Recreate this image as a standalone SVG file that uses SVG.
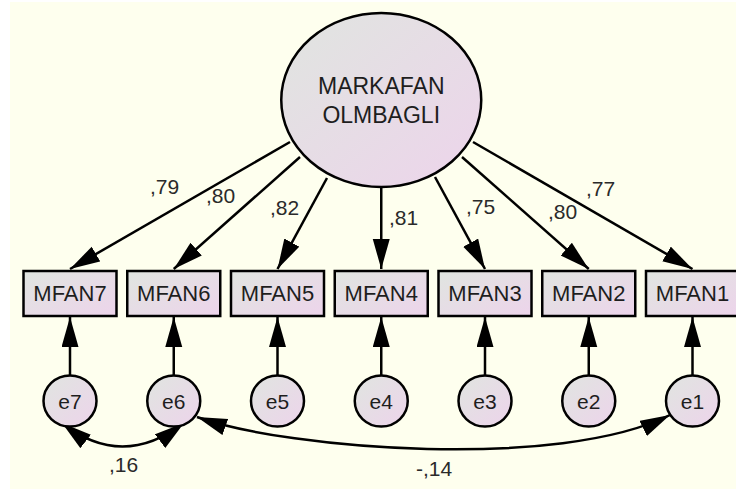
<svg xmlns="http://www.w3.org/2000/svg" width="736" height="489" viewBox="0 0 736 489">
  <defs>
    <linearGradient id="fillGrad" x1="0" y1="0" x2="1" y2="1">
      <stop offset="0" stop-color="#E0E5E0"/>
      <stop offset="1" stop-color="#EDD4EB"/>
    </linearGradient>
    <marker id="head" markerUnits="userSpaceOnUse" markerWidth="32" markerHeight="18" refX="30" refY="8.5" orient="auto-start-reverse" viewBox="0 0 32 18">
      <path d="M0,0 L30,8.5 L0,17 z" fill="#000"/>
    </marker>
    <style>
      .node { fill: url(#fillGrad); stroke: #000; stroke-width: 2.5; }
      .lbl { font-family: "Liberation Sans", Arial, sans-serif; fill: #1e1e1e; text-anchor: middle; }
      .big { font-size: 23px; }
      .obs { font-size: 22px; }
      .err { font-size: 21px; }
      .coef { font-family: "Liberation Sans", Arial, sans-serif; font-size: 21px; fill: #2a2a2a; }
      .path { fill: none; stroke: #000; stroke-width: 2.5; marker-end: url(#head); }
      .cov { fill: none; stroke: #000; stroke-width: 2.5; marker-start: url(#head); marker-end: url(#head); }
    </style>
  </defs>

  <!-- canvas -->
  <rect x="0" y="0" width="736" height="489" fill="#FFFFFF"/>
  <rect x="10" y="2" width="726" height="487" fill="#FEFFEE"/>

  <!-- connectors -->
  <g id="connectors">
    <!-- factor loadings -->
    <line class="path" x1="290" y1="142" x2="70" y2="269"/>
    <line class="path" x1="300" y1="157" x2="173.75" y2="269"/>
    <line class="path" x1="327" y1="178" x2="277.5" y2="269"/>
    <line class="path" x1="381.25" y1="188" x2="381.25" y2="269"/>
    <line class="path" x1="435" y1="177" x2="485" y2="269"/>
    <line class="path" x1="462" y1="157" x2="588.75" y2="269"/>
    <line class="path" x1="473" y1="142" x2="692.5" y2="269"/>
    <!-- error terms -->
    <line class="path" x1="70" y1="375" x2="70" y2="317"/>
    <line class="path" x1="173.75" y1="375" x2="173.75" y2="317"/>
    <line class="path" x1="277.5" y1="375" x2="277.5" y2="317"/>
    <line class="path" x1="381.25" y1="375" x2="381.25" y2="317"/>
    <line class="path" x1="485" y1="375" x2="485" y2="317"/>
    <line class="path" x1="588.75" y1="375" x2="588.75" y2="317"/>
    <line class="path" x1="692.5" y1="375" x2="692.5" y2="317"/>
    <!-- covariances -->
    <path class="cov" d="M62,423 Q122,470 184,423"/>
    <path class="cov" d="M197,417 C290,450 560,470 670,415"/>
  </g>

  <!-- coefficients -->
  <g id="coefficients">
    <text class="coef" x="150" y="194">,79</text>
    <text class="coef" x="206" y="203">,80</text>
    <text class="coef" x="270" y="215">,82</text>
    <text class="coef" x="389" y="225">,81</text>
    <text class="coef" x="466" y="214">,75</text>
    <text class="coef" x="548" y="219">,80</text>
    <text class="coef" x="586" y="196">,77</text>
    <text class="coef" x="109" y="472">,16</text>
    <text class="coef" x="416" y="476">-,14</text>
  </g>

  <!-- latent factor -->
  <g id="MARKAFAN_OLMBAGLI">
    <ellipse class="node" cx="381.25" cy="100" rx="100" ry="87"/>
    <text class="lbl big" x="381.25" y="94">MARKAFAN</text>
    <text class="lbl big" x="381.25" y="123">OLMBAGLI</text>
  </g>

  <!-- observed indicators -->
  <g id="MFAN7"><rect class="node" x="23.5" y="271" width="93" height="45"/><text class="lbl obs" x="70" y="301">MFAN7</text></g>
  <g id="MFAN6"><rect class="node" x="127.25" y="271" width="93" height="45"/><text class="lbl obs" x="173.75" y="301">MFAN6</text></g>
  <g id="MFAN5"><rect class="node" x="231" y="271" width="93" height="45"/><text class="lbl obs" x="277.5" y="301">MFAN5</text></g>
  <g id="MFAN4"><rect class="node" x="334.75" y="271" width="93" height="45"/><text class="lbl obs" x="381.25" y="301">MFAN4</text></g>
  <g id="MFAN3"><rect class="node" x="438.5" y="271" width="93" height="45"/><text class="lbl obs" x="485" y="301">MFAN3</text></g>
  <g id="MFAN2"><rect class="node" x="542.25" y="271" width="93" height="45"/><text class="lbl obs" x="588.75" y="301">MFAN2</text></g>
  <g id="MFAN1"><rect class="node" x="646" y="271" width="93" height="45"/><text class="lbl obs" x="692.5" y="301">MFAN1</text></g>

  <!-- error terms -->
  <g id="e7"><ellipse class="node" cx="70" cy="401" rx="26.5" ry="25.5"/><text class="lbl err" x="70" y="408.5">e7</text></g>
  <g id="e6"><ellipse class="node" cx="173.75" cy="401" rx="26.5" ry="25.5"/><text class="lbl err" x="173.75" y="408.5">e6</text></g>
  <g id="e5"><ellipse class="node" cx="277.5" cy="401" rx="26.5" ry="25.5"/><text class="lbl err" x="277.5" y="408.5">e5</text></g>
  <g id="e4"><ellipse class="node" cx="381.25" cy="401" rx="26.5" ry="25.5"/><text class="lbl err" x="381.25" y="408.5">e4</text></g>
  <g id="e3"><ellipse class="node" cx="485" cy="401" rx="26.5" ry="25.5"/><text class="lbl err" x="485" y="408.5">e3</text></g>
  <g id="e2"><ellipse class="node" cx="588.75" cy="401" rx="26.5" ry="25.5"/><text class="lbl err" x="588.75" y="408.5">e2</text></g>
  <g id="e1"><ellipse class="node" cx="692.5" cy="401" rx="26.5" ry="25.5"/><text class="lbl err" x="692.5" y="408.5">e1</text></g>
</svg>
